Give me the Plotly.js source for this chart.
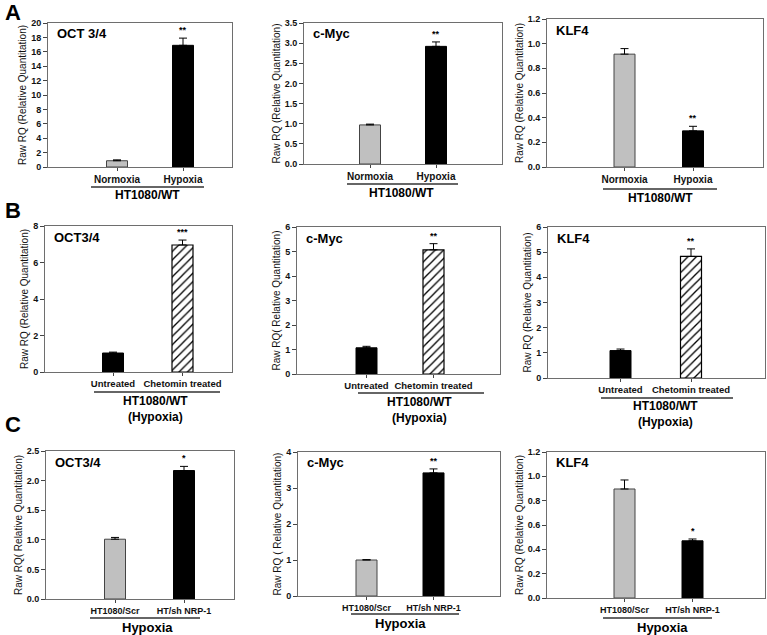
<!DOCTYPE html>
<html>
<head>
<meta charset="utf-8">
<script src="https://cdn.plot.ly/plotly-3.0.1.min.js"></script>
<style>html,body{margin:0;padding:0;background:#fff;}#chart{width:767px;height:635px;}</style>
</head>
<body>
<div id="chart"></div>
<script>
// ---- data ----
const catsA = ['Normoxia', 'Hypoxia'];
const catsB = ['Untreated', 'Chetomin treated'];
const catsC = ['HT1080/Scr', 'HT/sh NRP-1'];

const aOct = [0.87, 16.9],  aOctErr = [0.12, 1.0];
const aMyc = [0.97, 2.92],  aMycErr = [0.02, 0.11];
const aKlf = [0.915, 0.293], aKlfErr = [0.045, 0.037];

const bOct = [1.04, 6.96],  bOctErr = [0.05, 0.27];
const bMyc = [1.07, 5.07],  bMycErr = [0.06, 0.25];
const bKlf = [1.09, 4.83],  bKlfErr = [0.06, 0.30];

const cOct = [1.01, 2.17],  cOctErr = [0.03, 0.07];
const cMyc = [1.00, 3.42],  cMycErr = [0.01, 0.11];
const cKlf = [0.896, 0.47], cKlfErr = [0.074, 0.015];

const genesA = ['OCT 3/4', 'c-Myc', 'KLF4'];
const genesB = ['OCT3/4', 'c-Myc', 'KLF4'];
const genesC = ['OCT3/4', 'c-Myc', 'KLF4'];
const starsA = ['**', '**', '**'];
const starsB = ['***', '**', '**'];
const starsC = ['*', '**', '*'];
const yTitles = [
  'Raw RQ (Relative Quantitation)', 'Raw RQ (Relative Quantitation)', 'Raw RQ (Relative Quantitation)',
  'Raw RQ (Relative Quantitation)', 'Raw RQ( Relative Quantitation)', 'Raw RQ (Relative Quantitation)',
  'Raw RQ( Relative Quantitation)', 'Raw RQ ( Relative Quantitation)', 'Raw RQ (Relative Quantitation)'
];
const groupA = 'HT1080/WT';
const groupB = 'HT1080/WT<br>(Hypoxia)';
const groupC = 'Hypoxia';

// ---- layout helpers ----
const W = 767, H = 635;
const X = p => p / W;
const Y = p => 1 - p / H;
const FONT = 'Arial, "Liberation Sans", sans-serif';

// panel boxes (px): left, right, top, bottom, bar centre 1, bar centre 2
const boxes = [
  {l: 48, r: 232, t: 23, b: 167, c1: 117, c2: 183},
  {l: 304, r: 502, t: 23, b: 164, c1: 370, c2: 436},
  {l: 547, r: 763, t: 19, b: 167, c1: 624.5, c2: 693},
  {l: 45, r: 232, t: 226, b: 372, c1: 113, c2: 182.5},
  {l: 297, r: 500, t: 227, b: 374, c1: 366.5, c2: 433.5},
  {l: 548, r: 765, t: 227, b: 378, c1: 620.5, c2: 691},
  {l: 46, r: 234, t: 451, b: 599, c1: 115, c2: 184},
  {l: 298, r: 500, t: 452, b: 596, c1: 366.5, c2: 433.5},
  {l: 547, r: 765, t: 452, b: 598, c1: 624.5, c2: 692.5}
];
const yRanges = [[0,20],[0,3.5],[0,1.2],[0,8],[0,6],[0,6],[0,2.5],[0,4],[0,1.2]];
const yDticks = [2, 0.5, 0.2, 2, 1, 1, 0.5, 1, 0.2];
const yFormats = ['d', '.1f', '.1f', 'd', 'd', 'd', '.1f', 'd', '.1f'];

// group label positions: line x1,x2,y ; text centre x,y
const groupPos = [
  {x1: 91, x2: 204, ly: 187, tx: 147, ty: 195},
  {x1: 347, x2: 458, ly: 184, tx: 402, ty: 193},
  {x1: 603, x2: 717, ly: 189, tx: 660, ty: 198},
  {x1: 94, x2: 220, ly: 392, tx: 155, ty: 409},
  {x1: 358, x2: 484, ly: 393, tx: 419, ty: 410},
  {x1: 601, x2: 733, ly: 398, tx: 665, ty: 414},
  {x1: 90, x2: 200, ly: 618, tx: 147, ty: 627},
  {x1: 351, x2: 459, ly: 614, tx: 400, ty: 623},
  {x1: 603, x2: 712, ly: 618, tx: 662, ty: 627}
];

const panels = [
  {cats: catsA, v: aOct, e: aOctErr, gene: genesA[0], star: starsA[0], grp: groupA, row: 'A'},
  {cats: catsA, v: aMyc, e: aMycErr, gene: genesA[1], star: starsA[1], grp: groupA, row: 'A'},
  {cats: catsA, v: aKlf, e: aKlfErr, gene: genesA[2], star: starsA[2], grp: groupA, row: 'A'},
  {cats: catsB, v: bOct, e: bOctErr, gene: genesB[0], star: starsB[0], grp: groupB, row: 'B'},
  {cats: catsB, v: bMyc, e: bMycErr, gene: genesB[1], star: starsB[1], grp: groupB, row: 'B'},
  {cats: catsB, v: bKlf, e: bKlfErr, gene: genesB[2], star: starsB[2], grp: groupB, row: 'B'},
  {cats: catsC, v: cOct, e: cOctErr, gene: genesC[0], star: starsC[0], grp: groupC, row: 'C'},
  {cats: catsC, v: cMyc, e: cMycErr, gene: genesC[1], star: starsC[1], grp: groupC, row: 'C'},
  {cats: catsC, v: cKlf, e: cKlfErr, gene: genesC[2], star: starsC[2], grp: groupC, row: 'C'}
];
const tickSize = {A: 10, B: 9.5, C: 9};

const traces = [];
const layout = {
  width: W, height: H,
  margin: {l: 0, r: 0, t: 0, b: 0},
  paper_bgcolor: '#fff', plot_bgcolor: '#fff',
  showlegend: false,
  font: {family: FONT, color: '#111'},
  annotations: [], shapes: []
};

panels.forEach((p, i) => {
  const n = i + 1;
  const sfx = n === 1 ? '' : String(n);
  const bx = boxes[i];
  const unit = bx.c2 - bx.c1;
  const xr = [-(bx.c1 - bx.l) / unit, 1 + (bx.r - bx.c2) / unit];
  const bw = 21 / unit;
  const errBar = {type: 'data', symmetric: false, color: '#000', thickness: 1, width: 4};

  if (p.row === 'B') {
    traces.push({
      type: 'bar', x: [p.cats[0]], y: [p.v[0]],
      xaxis: 'x' + sfx, yaxis: 'y' + sfx, width: [bw],
      marker: {color: '#000', line: {color: '#000', width: 1}},
      error_y: Object.assign({array: [p.e[0]], arrayminus: [0]}, errBar)
    });
    traces.push({
      type: 'bar', x: [p.cats[1]], y: [p.v[1]],
      xaxis: 'x' + sfx, yaxis: 'y' + sfx, width: [bw],
      marker: {color: '#ffffff', line: {color: '#000', width: 1.2},
               pattern: {shape: '/', fgcolor: '#000', bgcolor: '#fff', size: 6, solidity: 0.22, fillmode: 'replace'}},
      error_y: Object.assign({array: [p.e[1]], arrayminus: [0]}, errBar)
    });
  } else {
    traces.push({
      type: 'bar', x: p.cats, y: p.v,
      xaxis: 'x' + sfx, yaxis: 'y' + sfx, width: [bw, bw],
      marker: {color: ['#c0c0c0', '#000000'], line: {color: ['#444444', '#000000'], width: 1}},
      error_y: Object.assign({array: p.e, arrayminus: [0, 0]}, errBar)
    });
  }

  layout['xaxis' + sfx] = {
    domain: [X(bx.l), X(bx.r)],
    anchor: 'y' + sfx,
    type: 'category',
    range: xr,
    showline: true, mirror: true, linecolor: '#6e6e6e', linewidth: 1,
    ticks: 'outside', ticklen: 3, tickcolor: '#444',
    showgrid: false, zeroline: false, fixedrange: true,
    tickangle: 0,
    tickfont: {family: FONT, size: tickSize[p.row], weight: 'bold', color: '#111'},
    ticklabelstandoff: 0
  };
  layout['yaxis' + sfx] = {
    domain: [Y(bx.b), Y(bx.t)],
    anchor: 'x' + sfx,
    range: yRanges[i], dtick: yDticks[i], tick0: 0, tickformat: yFormats[i],
    showline: true, mirror: true, linecolor: '#6e6e6e', linewidth: 1,
    ticks: 'outside', ticklen: 4, tickcolor: '#444',
    showgrid: false, zeroline: false, fixedrange: true,
    tickfont: {family: FONT, size: 9, weight: 'bold', color: '#111'},
    title: {text: yTitles[i], font: {family: FONT, size: 10, color: '#111'}, standoff: 2}
  };

  layout.annotations.push({
    xref: 'paper', yref: 'paper', x: X(bx.l + 7), y: Y(bx.t + 11),
    xanchor: 'left', yanchor: 'middle', showarrow: false,
    text: '<b>' + p.gene + '</b>', font: {family: FONT, size: 13, color: '#000'}
  });
  layout.annotations.push({
    xref: 'x' + sfx, yref: 'y' + sfx, x: p.cats[1], y: p.v[1] + p.e[1],
    xanchor: 'center', yanchor: 'bottom', yshift: 1, showarrow: false,
    text: '<b>' + p.star + '</b>', font: {family: FONT, size: 9, color: '#000'}
  });
  const g = groupPos[i];
  layout.shapes.push({
    type: 'line', xref: 'paper', yref: 'paper',
    x0: X(g.x1), x1: X(g.x2), y0: Y(g.ly), y1: Y(g.ly),
    line: {color: '#333', width: 1.5}
  });
  layout.annotations.push({
    xref: 'paper', yref: 'paper', x: X(g.tx), y: Y(g.ty),
    xanchor: 'center', yanchor: 'middle', showarrow: false,
    text: '<b>' + p.grp + '</b>',
    font: {family: FONT, size: p.row === 'C' ? 13 : 12, color: '#000'}
  });
});

[['A', 12], ['B', 210], ['C', 424]].forEach(([t, y]) => {
  layout.annotations.push({
    xref: 'paper', yref: 'paper', x: X(3), y: Y(y),
    xanchor: 'left', yanchor: 'middle', showarrow: false,
    text: '<b>' + t + '</b>', font: {family: FONT, size: 22, color: '#000'}
  });
});

Plotly.newPlot('chart', traces, layout, {staticPlot: true, displayModeBar: false});
</script>
</body>
</html>
